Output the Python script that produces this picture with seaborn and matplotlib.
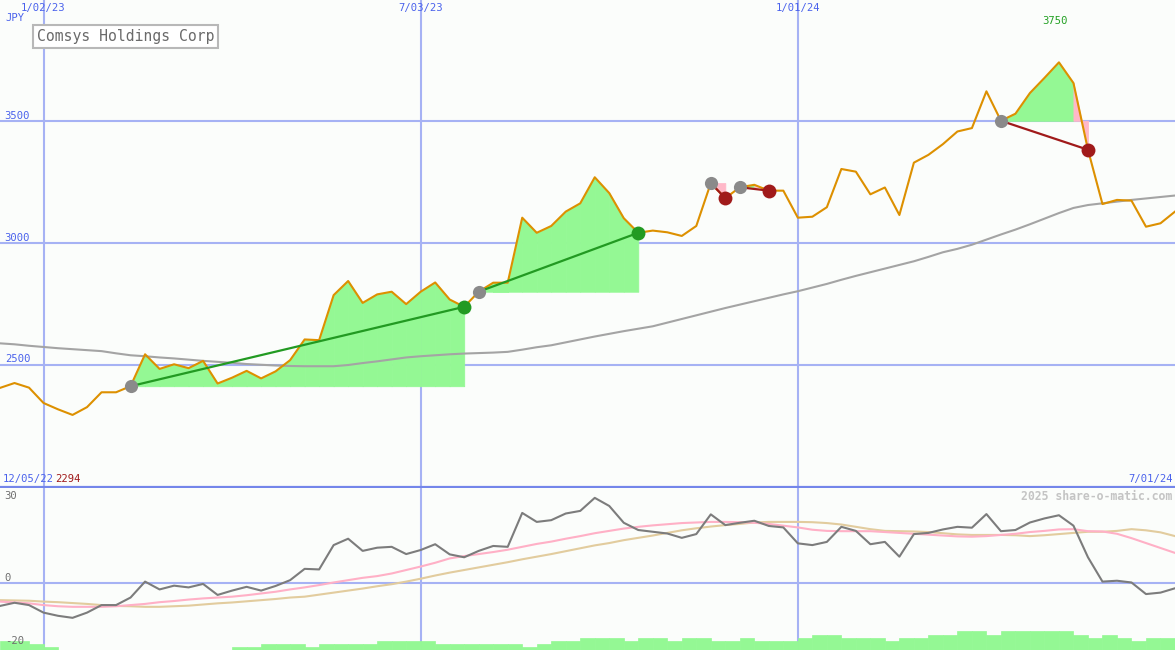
import numpy as np
import pandas as pd
import matplotlib
matplotlib.use('Agg')
from matplotlib import pyplot as plt
import matplotlib.dates as mdates
import matplotlib.transforms as mtransforms
import seaborn as sns

# weekly closes, Dec 12 2022 .. Jul 1 2024
weeks = pd.date_range('2022-12-12', periods=82, freq='7D').to_pydatetime()

close = [2405, 2425, 2406, 2343, 2317, 2294, 2326, 2387, 2387, 2412,
         2543, 2483, 2502, 2486, 2516, 2423, 2447, 2475, 2444, 2473,
         2519, 2604, 2601, 2786, 2844, 2754, 2789, 2800, 2749, 2800,
         2838, 2768, 2738, 2800, 2837, 2837, 3104, 3042, 3070, 3129,
         3163, 3270, 3205, 3102, 3042, 3051, 3044, 3029, 3070, 3246,
         3184, 3229, 3239, 3215, 3215, 3104, 3108, 3147, 3304, 3293,
         3200, 3228, 3115, 3330, 3362, 3406, 3458, 3472, 3623, 3502,
         3531, 3616, 3678, 3742, 3657, 3383, 3160, 3177, 3174, 3067,
         3081, 3129]

moving_avg = [2588, 2584, 2578, 2573, 2568, 2564, 2560, 2556, 2547, 2539,
              2535, 2530, 2526, 2521, 2516, 2512, 2508, 2503, 2500, 2497,
              2495, 2494, 2494, 2494, 2499, 2507, 2514, 2522, 2530, 2535,
              2539, 2543, 2546, 2548, 2550, 2553, 2562, 2572, 2580, 2592,
              2604, 2616, 2627, 2638, 2648, 2658, 2673, 2688, 2703, 2718,
              2733, 2747, 2761, 2775, 2789, 2802, 2817, 2832, 2849, 2865,
              2880, 2895, 2910, 2925, 2943, 2962, 2976, 2993, 3014, 3035,
              3055, 3077, 3100, 3123, 3144, 3156, 3163, 3170, 3177, 3183,
              3189, 3195]

momentum = [-7.9, -6.8, -7.6, -10.2, -11.3, -12.0, -10.2, -7.6, -7.6, -5.0,
            0.5, -2.2, -0.9, -1.5, -0.3, -4.1, -2.6, -1.3, -2.6, -1.0,
            1.0, 4.9, 4.7, 13.1, 15.3, 11.1, 12.2, 12.5, 10.0, 11.4,
            13.4, 9.9, 8.9, 11.1, 12.8, 12.5, 24.2, 21.1, 21.7, 24.0,
            24.9, 29.4, 26.6, 20.8, 18.3, 17.7, 17.1, 15.6, 16.9, 23.7,
            20.0, 20.8, 21.5, 19.7, 19.2, 13.7, 13.1, 14.2, 19.4, 18.0,
            13.4, 14.2, 9.1, 16.9, 17.3, 18.5, 19.4, 19.1, 23.8, 17.9,
            18.3, 20.9, 22.3, 23.4, 19.8, 8.9, 0.5, 0.8, 0.2, -3.8,
            -3.3, -1.8]

momentum_fast = [-6.4, -6.7, -7.0, -7.6, -8.0, -8.2, -8.2, -8.2, -8.0, -7.6,
                 -7.2, -6.6, -6.2, -5.7, -5.3, -5.0, -4.7, -4.2, -3.6, -3.0,
                 -2.2, -1.5, -0.7, 0.2, 1.0, 1.8, 2.4, 3.3, 4.5, 5.7,
                 7.0, 8.5, 9.3, 10.0, 10.7, 11.5, 12.5, 13.5, 14.3, 15.3,
                 16.2, 17.2, 18.0, 18.8, 19.4, 19.9, 20.3, 20.7, 20.9, 21.1,
                 21.1, 21.0, 20.8, 20.4, 19.8, 19.2, 18.4, 18.0, 17.9, 17.9,
                 17.9, 17.6, 17.3, 17.0, 16.7, 16.4, 16.1, 16.0, 16.2, 16.6,
                 17.0, 17.6, 18.0, 18.5, 18.6, 17.9, 17.8, 17.0, 15.5, 13.8,
                 12.1, 10.4]

momentum_slow = [-5.9, -6.0, -6.1, -6.4, -6.6, -6.9, -7.2, -7.6, -7.9, -8.0,
                 -8.2, -8.2, -8.0, -7.8, -7.4, -7.0, -6.7, -6.3, -5.9, -5.5,
                 -5.0, -4.7, -4.0, -3.3, -2.6, -1.9, -1.1, -0.4, 0.5, 1.5,
                 2.6, 3.6, 4.5, 5.4, 6.3, 7.2, 8.2, 9.1, 10.0, 11.0,
                 12.0, 13.0, 13.8, 14.8, 15.6, 16.4, 17.3, 18.2, 18.9, 19.5,
                 20.0, 20.4, 20.9, 21.1, 21.1, 21.1, 21.0, 20.7, 20.2, 19.4,
                 18.6, 18.0, 17.9, 17.8, 17.6, 17.2, 16.8, 16.6, 16.6, 16.6,
                 16.5, 16.2, 16.5, 16.9, 17.3, 17.7, 17.7, 18.0, 18.6, 18.2,
                 17.5, 16.2]

volume = [90, 90, 60, 33, 0, 0, 0, 0, 0, 0,
          0, 0, 0, 0, 0, 0, 33, 33, 60, 60,
          60, 33, 60, 60, 60, 60, 90, 90, 90, 90,
          60, 60, 60, 60, 60, 60, 33, 60, 90, 90,
          123, 123, 123, 90, 123, 123, 90, 123, 123, 90,
          90, 123, 90, 90, 90, 123, 150, 150, 123, 123,
          123, 90, 123, 123, 150, 150, 190, 190, 150, 190,
          190, 190, 190, 190, 150, 123, 150, 123, 90, 123,
          123, 123]

# trade signals (week index of entry and exit)
entry_idx = [9, 33, 49, 51, 69]
exit_idx = [32, 44, 50, 53, 75]

grid_dates = ['2023-01-02', '2023-07-03', '2024-01-01']
grid_labels = ['1/02/23', '7/03/23', '1/01/24']
price_levels = [2500, 3000, 3500]
osc_labels = [30, 0, -20]

bg = '#fbfdfb'
grid_col = '#a6b2f4'
blue_txt = '#4a62ec'
win_col = '#229a22'
loss_col = '#a01a1a'
fill_green = '#94f894'
fill_pink = '#ffb8c8'

plt.rcParams['font.family'] = 'DejaVu Sans Mono'

fig = plt.figure(figsize=(11.75, 6.5), dpi=100, facecolor=bg)
ax = fig.add_axes([0, 163 / 650, 1, 487 / 650])
axl = fig.add_axes([0, 0, 1, 162 / 650])

for a in (ax, axl):
    a.set_facecolor(bg)
    a.set_xticks([])
    a.set_yticks([])
    for s in a.spines.values():
        s.set_visible(False)
    a.set_xlim(weeks[0], weeks[-1])
    for d in grid_dates:
        a.axvline(pd.Timestamp(d), color=grid_col, lw=1.5, zorder=1)

ax.spines['bottom'].set_visible(True)
ax.spines['bottom'].set_color('#7486ea')
ax.spines['bottom'].set_linewidth(1.6)
ax.set_ylim(1998, 3998)
axl.set_ylim(-23.1, 32.8)

for lv in price_levels:
    ax.axhline(lv, color=grid_col, lw=1.5, zorder=1)
axl.axhline(0, color=grid_col, lw=1.5, zorder=1)

# signal fills
for a_i, b_i in zip(entry_idx, exit_idx):
    e = close[a_i]
    for i in range(a_i, b_i):
        col = fill_green if close[i + 1] > e else fill_pink
        ax.fill_between(weeks[i:i + 2], [e, e], close[i:i + 2], color=col,
                        lw=0.6, edgecolor=col, zorder=2)

sns.lineplot(x=weeks, y=moving_avg, ax=ax, color='#a4a4a4', linewidth=1.5, zorder=3)
sns.lineplot(x=weeks, y=close, ax=ax, color='#dd9000', linewidth=1.5, zorder=4)

for a_i, b_i in zip(entry_idx, exit_idx):
    col = win_col if close[b_i] > close[a_i] else loss_col
    ax.plot([weeks[a_i], weeks[b_i]], [close[a_i], close[b_i]], color=col, lw=1.6, zorder=5)
    ax.scatter([weeks[a_i]], [close[a_i]], s=90, color='#8a8a8a', lw=0, zorder=6)
    ax.scatter([weeks[b_i]], [close[b_i]], s=100, color=col, lw=0, zorder=6)

ax.set_xlabel('')
ax.set_ylabel('')

# lower panel
sns.lineplot(x=weeks, y=momentum_slow, ax=axl, color='#e2cc9e', linewidth=1.5, zorder=3)
sns.lineplot(x=weeks, y=momentum_fast, ax=axl, color='#ffb0c6', linewidth=1.5, zorder=3)
sns.lineplot(x=weeks, y=momentum, ax=axl, color='#7c7c7c', linewidth=1.5, zorder=4)
axl.set_xlabel('')
axl.set_ylabel('')

axv = axl.twinx()
axv.set_ylim(0, 1620)
axv.bar(weeks, volume, width=7, align='edge', color=fill_green, lw=0.5,
        edgecolor=fill_green)
axv.set_xlim(weeks[0], weeks[-1])
axv.set_yticks([])
for s in axv.spines.values():
    s.set_visible(False)

# labels
top_tr = mtransforms.blended_transform_factory(ax.transData, ax.transAxes)
for d, lab in zip(grid_dates, grid_labels):
    ax.text(mdates.date2num(pd.Timestamp(d)), 0.983, lab, transform=top_tr,
            ha='center', va='center', fontsize=7.6, color=blue_txt)

ax.text(0.005, 0.964, 'JPY', transform=ax.transAxes, ha='left', va='center',
        fontsize=7.6, color=blue_txt)

py_tr = mtransforms.blended_transform_factory(ax.transAxes, ax.transData)
for lv in price_levels:
    ax.text(0.004, lv + 2, str(lv), transform=py_tr, ha='left', va='bottom',
            fontsize=7.6, color=blue_txt)

hi = int(np.argmax(close))
ax.text(mdates.date2num(weeks[hi]) - 2, 0.957, '3750', transform=top_tr,
        ha='center', va='center', fontsize=7.6, color='#22a022')

ax.text(0.002, 0.0165, '12/05/22', transform=ax.transAxes, ha='left', va='center',
        fontsize=7.6, color=blue_txt)
ax.text(0.047, 0.0165, str(min(close)), transform=ax.transAxes, ha='left', va='center',
        fontsize=7.6, color=loss_col)
ax.text(0.998, 0.0165, '7/01/24', transform=ax.transAxes, ha='right', va='center',
        fontsize=7.6, color=blue_txt)

ax.text(37 / 1175, 1 - 36.5 / 487, 'Comsys Holdings Corp', transform=ax.transAxes,
        ha='left', va='center', fontsize=10.6, color='#6a6a6a', zorder=10,
        bbox=dict(boxstyle='square,pad=0.25', fc='white', ec='#b8b8b8', lw=1.5))

low_tr = mtransforms.blended_transform_factory(axl.transAxes, axl.transData)
for lv in osc_labels:
    fig.text(0.004, lv + (1.7 if lv == 0 else 0), str(lv), transform=low_tr,
             ha='left', va='center', fontsize=7.6, color='#6e6e6e')

fig.text(0.998, 30, '2025 share-o-matic.com', transform=low_tr, ha='right', va='center',
         fontsize=8.3, color='#c4c4c4', fontweight='bold')

fig.savefig('out.png', dpi=100, facecolor=bg)
